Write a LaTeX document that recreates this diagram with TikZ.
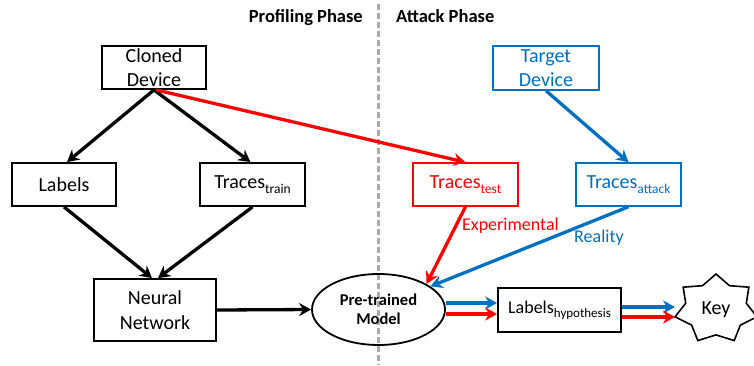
\documentclass[tikz,border=0pt]{standalone}
\usepackage{fontspec}
\setmainfont{Carlito}
\usetikzlibrary{arrows.meta,shapes.geometric}
\definecolor{myred}{RGB}{255,0,0}
\definecolor{myblue}{RGB}{0,112,192}
\definecolor{dashgray}{RGB}{170,170,170}
\newcommand{\lsub}[1]{\raisebox{-4.5pt}{\fontsize{13.5}{14}\selectfont #1}}
\begin{document}
\begin{tikzpicture}[x=1pt,y=-1pt,
  box/.style={draw, line width=1.8pt, inner sep=0pt, align=center, font=\fontsize{20}{24.5}\selectfont},
  rbox/.style={box, draw=myred, text=myred, line width=1.5pt},
  bbox/.style={box, draw=myblue, text=myblue, line width=1.5pt},
  tip/.style={-{Stealth[length=12pt,width=13pt,inset=4pt]}},
  blk/.style={tip, line width=3.3pt, black},
  redarr/.style={tip, line width=3.3pt, myred},
  bluarr/.style={tip, line width=3.3pt, myblue},
  phase/.style={font=\fontsize{18.5}{21}\selectfont\bfseries},
  lab/.style={font=\fontsize{18}{21}\selectfont, inner sep=0pt}
]
\useasboundingbox (0,0) rectangle (754,365);

% phase separator
\coordinate (dtop) at (378,4);
\coordinate (dbot) at (378,365);
\draw[dashgray, line width=3pt, dash pattern=on 6pt off 3pt] (dtop) -- (dbot);
\node[phase, anchor=base east, inner sep=0pt] (prof) at (363,22.5) {Profiling Phase};
\node[phase, anchor=base west, inner sep=0pt] (att) at (396,22.5) {Attack Phase};

% nodes
\node[box, minimum width=104pt, minimum height=43pt] (cloned) at (154,67.5) {Cloned\\Device};
\node[box, minimum width=104pt, minimum height=43pt] (labels) at (64,184.5) {Labels};
\node[box, minimum width=105pt, minimum height=43pt] (train) at (252.5,184.5) {Traces\lsub{train}};
\node[box, minimum width=122pt, minimum height=62pt] (nn) at (155,310) {Neural\\Network};
\node[draw, ellipse, line width=1.8pt, inner sep=0pt, minimum width=133pt, minimum height=71pt, align=center,
      font=\fontsize{16.5}{19.5}\selectfont\bfseries] (ptm) at (378.5,309.5) {Pre-trained\\Model};
\node[box, minimum width=123pt, minimum height=44pt, font=\fontsize{18}{22}\selectfont] (hyp) at (559.5,310) {Labels{\raisebox{-4pt}{\fontsize{13}{14}\selectfont hypothesis}}};
\node[bbox, minimum width=106pt, minimum height=44pt] (target) at (546,68) {Target\\Device};
\node[rbox, minimum width=105pt, minimum height=43pt] (test) at (465.5,184.5) {Traces\lsub{test}};
\node[bbox, minimum width=105pt, minimum height=43pt] (attack) at (628.5,184.5) {Traces\lsub{attack}};

% key star
\draw[line width=1.6pt, fill=white] ({716+42*cos(90)},{309-35*sin(90)})
  \foreach \k in {1,...,13} { -- ({716+42*(mod(\k,2)==0 ? 1 : 0.74)*cos(90+\k*180/7)},{309-35*(mod(\k,2)==0 ? 1 : 0.74)*sin(90+\k*180/7)}) } -- cycle;
\node[font=\fontsize{20}{24}\selectfont, inner sep=0pt] (key) at (716,310) {Key};
\coordinate (keyL) at (675,312);

% connectors
\draw[blk] (cloned.south) -- ([xshift=3pt]labels.north);
\draw[blk] (cloned.south) -- ([xshift=-2pt]train.north);
\draw[blk] (labels.south) -- ([xshift=-3pt]nn.north);
\draw[blk] (train.south) -- ([xshift=3pt]nn.north);
\draw[blk] (nn.east) -- (ptm.west);
\draw[redarr] ([xshift=2pt]cloned.south) -- (test.north);
\draw[bluarr] (target.south) -- (attack.north);
\draw[redarr] (test.south) -- (ptm.28);
\draw[bluarr] (attack.south) -- (ptm.24);
\draw[bluarr] ([yshift=6.5pt]ptm.east) -- ([yshift=6.5pt]ptm.east -| hyp.west);
\draw[redarr] ([yshift=-4.5pt]ptm.east) -- ([yshift=-4.5pt]ptm.east -| hyp.west);
\draw[bluarr] ([yshift=3pt]hyp.east) -- ([yshift=3pt]hyp.east -| keyL);
\draw[redarr] ([yshift=-7pt]hyp.east) -- ([yshift=-7pt]hyp.east -| keyL);

% edge labels
\node[lab, text=myred, anchor=base west] (explab) at (462,230) {Experimental};
\node[lab, text=myblue, anchor=base west] (reallab) at (574,242.5) {Reality};
\end{tikzpicture}
\end{document}
